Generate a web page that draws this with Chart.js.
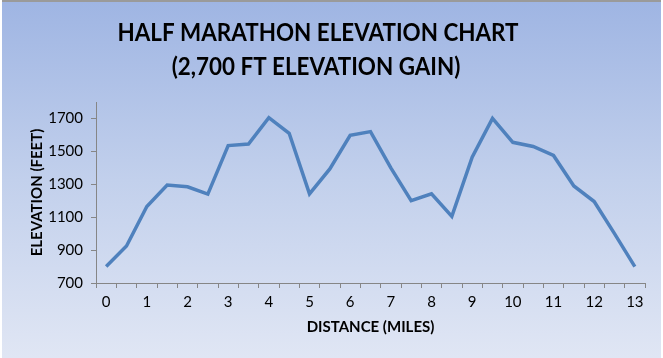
<!DOCTYPE html>
<html>
<head>
<meta charset="utf-8">
<script src="https://cdn.jsdelivr.net/npm/chart.js@4/dist/chart.umd.min.js"></script>
<style>
  html, body { margin: 0; padding: 0; background: #ffffff; }
  #wrap {
    position: absolute; left: 2px; top: 0px; width: 659px; height: 356px;
    border-top: 2px solid #9a9a9a;
    background: linear-gradient(to bottom, #9fb5e3 0%, #c2d0ec 50%, #e0e6f4 100%);
  }
  canvas { display: block; }
</style>
</head>
<body>
<div id="wrap"><canvas id="c" width="659" height="356"></canvas></div>
<script>
// ---- data ----
const distances = [0, 0.5, 1, 1.5, 2, 2.5, 3, 3.5, 4, 4.5, 5, 5.5, 6, 6.5, 7, 7.5, 8, 8.5, 9, 9.5, 10, 10.5, 11, 11.5, 12, 12.5, 13];
const elevations = [800, 925, 1165, 1295, 1285, 1240, 1535, 1545, 1705, 1610, 1242, 1393, 1597, 1620, 1400, 1200, 1242, 1105, 1465, 1700, 1555, 1530, 1475, 1290, 1195, 1000, 800];
const yTicks = [700, 900, 1100, 1300, 1500, 1700];
const yMin = 700;
const yMax = 1800;
const titleLines = ['HALF MARATHON ELEVATION CHART', '(2,700 FT ELEVATION GAIN)'];
const xTitle = 'DISTANCE (MILES)';
const yTitle = 'ELEVATION (FEET)';

const axisColor = '#868686';
const fontFam = "Lato, 'Open Sans', sans-serif";

const titlePlugin = {
  id: 'customTitle',
  afterDraw(chart) {
    const ctx = chart.ctx;
    ctx.save();
    ctx.fillStyle = '#000000';
    ctx.font = "bold 25px " + fontFam;
    ctx.textAlign = 'center';
    ctx.textBaseline = 'middle';
    const w = ctx.measureText(titleLines[0]).width;
    const sx = 401 / w;
    ctx.translate(316, 0);
    ctx.scale(sx, 1);
    ctx.fillText(titleLines[0], 0, 31);
    ctx.fillText(titleLines[1], -2 / sx, 65);
    ctx.restore();
  }
};

new Chart(document.getElementById('c'), {
  type: 'line',
  data: {
    labels: distances,
    datasets: [{
      data: elevations,
      borderColor: '#4f81bd',
      borderWidth: 3.5,
      pointRadius: 0,
      tension: 0,
      fill: false
    }]
  },
  options: {
    responsive: false,
    animation: false,
    layout: { padding: { left: 0, top: 100, right: 16, bottom: 0 } },
    plugins: { legend: { display: false }, tooltip: { enabled: false }, title: { display: false } },
    scales: {
      x: {
        type: 'category',
        offset: true,
        grid: { offset: true, drawOnChartArea: false, drawTicks: true, tickLength: 5, color: axisColor },
        border: { display: true, color: axisColor, width: 1 },
        ticks: {
          autoSkip: false, maxRotation: 0, minRotation: 0, padding: 5,
          color: '#000000',
          font: { family: fontFam, size: 15 },
          callback: function (v, i) { const d = distances[i]; return Number.isInteger(d) ? String(d) : ''; }
        },
        title: {
          display: true, text: xTitle, color: '#000000',
          font: { family: fontFam, size: 15, weight: 'bold' },
          padding: { top: 0, bottom: 22 }
        },
        afterFit: function (s) { s.height = 75; }
      },
      y: {
        min: yMin, max: yMax,
        afterBuildTicks: function (s) { s.ticks = yTicks.map(v => ({ value: v })); },
        grid: { drawOnChartArea: false, drawTicks: true, tickLength: 5, color: axisColor },
        border: { display: true, color: axisColor, width: 1 },
        ticks: {
          padding: 8, color: '#000000',
          font: { family: fontFam, size: 15 },
          callback: function (v) { return String(v); }
        },
        title: {
          display: true, text: yTitle, color: '#000000',
          font: { family: fontFam, size: 15, weight: 'bold' },
          padding: { top: 26, bottom: 0 }
        },
        afterFit: function (s) { s.width = 94; }
      }
    }
  },
  plugins: [titlePlugin]
});
</script>
</body>
</html>
